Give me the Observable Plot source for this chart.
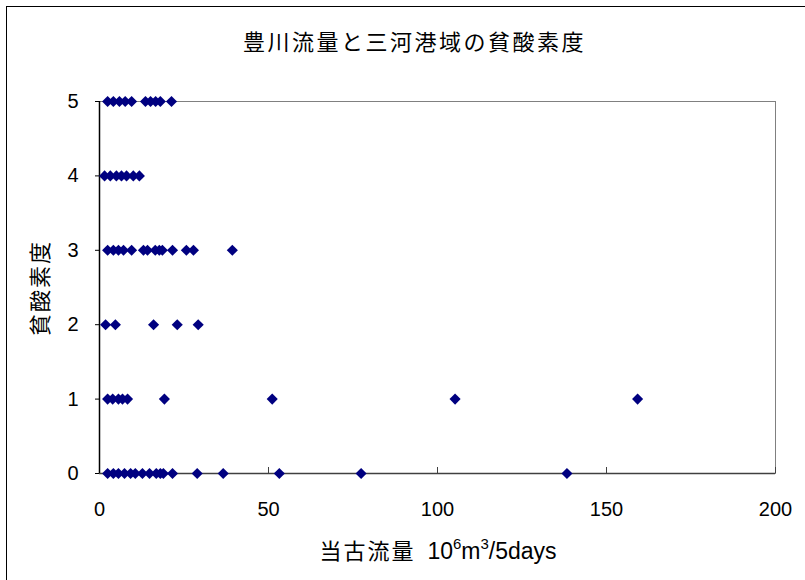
<!DOCTYPE html>
<html>
<head>
<meta charset="utf-8">
<script src="https://cdn.jsdelivr.net/npm/d3@7"></script>
<script src="https://cdn.jsdelivr.net/npm/@observablehq/plot@0.6"></script>
<style>
  body { margin: 0; background: #fff; }
  #wrap { position: relative; width: 805px; height: 580px; overflow: hidden; background: #fff; }
  #border { position: absolute; left: 6px; top: 6px; width: 830px; height: 620px; border: 1.5px solid #000; box-sizing: border-box; pointer-events: none; }
  #title { position: absolute; top: 26px; left: 0; width: 829px; text-align: center; font-family: "Noto Sans CJK JP", sans-serif; font-size: 22px; letter-spacing: 2.5px; color: #000; line-height: 28px; }
  #xlabel { position: absolute; top: 535px; left: 0; width: 876px; text-align: center; color: #000; line-height: 28px; white-space: pre; }
  #xlabel .jp { font-family: "Noto Sans CJK JP", sans-serif; font-size: 22px; letter-spacing: 2px; }
  #xlabel .en { font-family: "Liberation Sans", Arial, sans-serif; font-size: 23px; margin-left: 8px; }
  #xlabel sup { font-size: 15px; vertical-align: 10px; line-height: 0; }
  #ylabel { position: absolute; left: 38px; top: 288px; width: 0; height: 0; }
  #ylabel span { position: absolute; left: 0; top: 0; transform: translate(-50%, -50%) rotate(-90deg); white-space: nowrap; font-family: "Noto Sans CJK JP", sans-serif; font-size: 22px; letter-spacing: 2px; color: #000; line-height: 26px; }
  #chart { position: absolute; left: 0; top: 0; }
</style>
</head>
<body>
<div id="wrap">
  <div id="chart"></div>
  <div id="title">豊川流量と三河港域の貧酸素度</div>
  <div id="xlabel"><span class="jp">当古流量</span> <span class="en">10<sup>6</sup>m<sup>3</sup>/5days</span></div>
  <div id="ylabel"><span>貧酸素度</span></div>
  <div id="border"></div>
</div>
<script>
// Flow (10^6 m3 / 5 days) observed at each hypoxia level
const level5 = [2.4, 4.1, 5.9, 7.6, 9.5, 13.6, 15.1, 16.6, 18.0, 21.3];
const level4 = [1.5, 3.2, 5.0, 6.5, 8.0, 10.0, 11.8];
const level3 = [2.4, 4.1, 5.6, 7.1, 9.5, 13.0, 14.2, 16.5, 17.7, 18.6, 21.6, 25.7, 27.8, 39.3];
const level2 = [1.8, 4.7, 16.0, 23.0, 29.2];
const level1 = [2.4, 3.9, 5.6, 6.8, 8.3, 19.2, 51.1, 105.2, 159.2];
const level0 = [2.4, 4.1, 5.6, 7.4, 9.2, 10.6, 12.7, 14.8, 16.8, 18.0, 18.9, 21.6, 28.9, 36.6, 53.2, 77.4, 138.3];

const levels = [0, 1, 2, 3, 4, 5];
const xTicks = [0, 50, 100, 150, 200];

const series = [level0, level1, level2, level3, level4, level5];
const data = series.flatMap((arr, i) => arr.map(v => ({flow: v, level: levels[i]})));

const chart = Plot.plot({
  width: 805,
  height: 580,
  marginLeft: 99,
  marginRight: 30,
  marginTop: 101,
  marginBottom: 107,
  style: { fontFamily: "'Liberation Sans', Arial, sans-serif", fontSize: "20px", color: "#000", background: "transparent" },
  x: { domain: [0, 200] },
  y: { domain: [0, 5] },
  marks: [
    Plot.frame({ stroke: "#808080", strokeWidth: 1 }),
    Plot.axisX({ ticks: xTicks, tickSize: 6, dy: -6, text: null, stroke: "#404040", label: null }),
    Plot.axisX({ ticks: xTicks, tickSize: 0, tickPadding: 28, label: null, fontSize: 20 }),
    Plot.axisY({ ticks: levels, tickSize: 4, text: null, label: null }),
    Plot.text(levels, { x: () => 0, y: d => d, text: d => String(d), dx: -21, textAnchor: "end", fontSize: 20, fill: "#000" }),
    Plot.ruleY([0], { stroke: "#404040", strokeWidth: 1.5 }),
    Plot.ruleX([0], { stroke: "#000", strokeWidth: 1.5 }),
    Plot.dot(data, { x: "flow", y: "level", symbol: "diamond2", r: 5, fill: "#000080", stroke: "none" })
  ]
});
document.getElementById("chart").appendChild(chart);
</script>
</body>
</html>
